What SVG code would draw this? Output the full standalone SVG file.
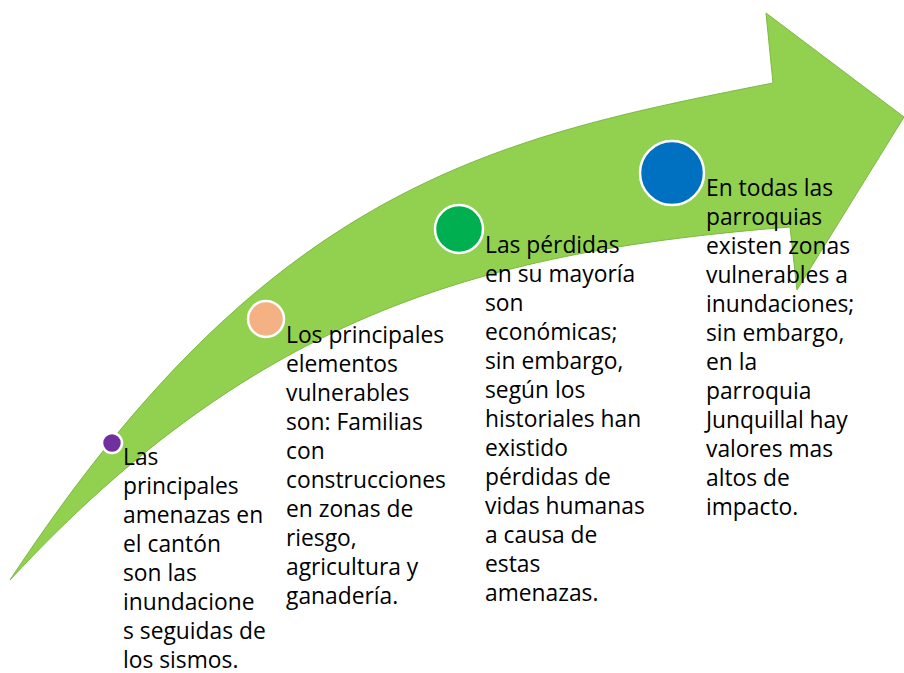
<svg xmlns="http://www.w3.org/2000/svg" width="904" height="673" viewBox="0 0 904 673">
<style>
.t{font-family:"Open Sans","Noto Sans","Liberation Sans",sans-serif;font-size:22.8px;fill:#000;}
.dot{stroke:#fff;stroke-width:2.5;}
</style>
<rect width="904" height="673" fill="#fff"/>
<g id="arrow">
<path d="M10,580 C270,185 493,138 773,83 L766,13 L904,117 L797,290 L790,227 C490,251 260,310 10,580 Z" fill="#92d050" stroke="#7cb943" stroke-width="1"/>
</g>
<g id="connectors"></g>
<g id="node1">
<circle class="dot" cx="112" cy="443" r="10" fill="#7030a0"/>
<text class="t"><tspan x="123" y="465">Las</tspan><tspan x="123" y="494">principales</tspan><tspan x="123" y="523">amenazas en</tspan><tspan x="123" y="552">el cantón</tspan><tspan x="123" y="581">son las</tspan><tspan x="123" y="610">inundacione</tspan><tspan x="123" y="639">s seguidas de</tspan><tspan x="123" y="668">los sismos.</tspan></text>
</g>
<g id="node2">
<circle class="dot" cx="266" cy="319" r="18" fill="#f4b183"/>
<text class="t"><tspan x="286" y="343">Los principales</tspan><tspan x="286" y="372">elementos</tspan><tspan x="286" y="401">vulnerables</tspan><tspan x="286" y="430">son: Familias</tspan><tspan x="286" y="459">con</tspan><tspan x="286" y="488">construcciones</tspan><tspan x="286" y="517">en zonas de</tspan><tspan x="286" y="546">riesgo,</tspan><tspan x="286" y="575">agricultura y</tspan><tspan x="286" y="604">ganadería.</tspan></text>
</g>
<g id="node3">
<circle class="dot" cx="459" cy="229" r="24" fill="#00b050"/>
<text class="t"><tspan x="485" y="253">Las pérdidas</tspan><tspan x="485" y="282">en su mayoría</tspan><tspan x="485" y="311">son</tspan><tspan x="485" y="340">económicas;</tspan><tspan x="485" y="369">sin embargo,</tspan><tspan x="485" y="398">según los</tspan><tspan x="485" y="427">historiales han</tspan><tspan x="485" y="456">existido</tspan><tspan x="485" y="485">pérdidas de</tspan><tspan x="485" y="514">vidas humanas</tspan><tspan x="485" y="543">a causa de</tspan><tspan x="485" y="572">estas</tspan><tspan x="485" y="601">amenazas.</tspan></text>
</g>
<g id="node4">
<circle class="dot" cx="672" cy="173" r="32" fill="#0070c0"/>
<text class="t"><tspan x="706" y="196">En todas las</tspan><tspan x="706" y="225">parroquias</tspan><tspan x="706" y="254">existen zonas</tspan><tspan x="706" y="283">vulnerables a</tspan><tspan x="706" y="312">inundaciones;</tspan><tspan x="706" y="341">sin embargo,</tspan><tspan x="706" y="370">en la</tspan><tspan x="706" y="399">parroquia</tspan><tspan x="706" y="428">Junquillal hay</tspan><tspan x="706" y="457">valores mas</tspan><tspan x="706" y="486">altos de</tspan><tspan x="706" y="515">impacto.</tspan></text>
</g>
</svg>
